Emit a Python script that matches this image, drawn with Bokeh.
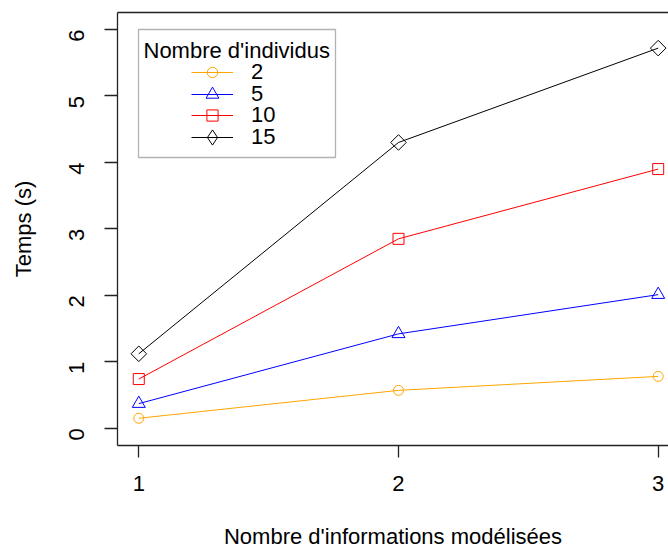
import math
from bokeh.plotting import figure
from bokeh.models import (Range1d, FixedTicker, Legend, LegendItem, Label, BoxAnnotation,
                          LinearAxis)
from bokeh.embed import file_html
from bokeh.resources import INLINE

# ---- data ----
x_vals = [1, 2, 3]
x_ticks = [1, 2, 3]
y_ticks = [0, 1, 2, 3, 4, 5, 6]
series_names = ["2", "5", "10", "15"]
t_2 = [0.15, 0.57, 0.78]
t_5 = [0.37, 1.42, 2.01]
t_10 = [0.74, 2.85, 3.90]
t_15 = [1.12, 4.30, 5.72]
series_values = [t_2, t_5, t_10, t_15]
series_colors = ["#FFA500", "#0000FF", "#FF0000", "#000000"]
series_markers = ["circle", "triangle", "square", "square"]
legend_markers = ["circle", "triangle", "square", "diamond"]
series_sizes = [10, 13, 11, 11]
series_angles = [0, 0, 0, math.pi / 4]

FONT = "Liberation Sans"
FS = "22px"
AX = "#222222"

p = figure(width=668, height=551,
           x_range=Range1d(0.918, 3.0397), y_range=Range1d(-0.260, 6.256),
           output_backend="svg", toolbar_location=None,
           min_border_left=117, min_border_right=0, min_border_top=12, min_border_bottom=106)
p.background_fill_color = "white"
p.border_fill_color = "white"
p.outline_line_color = None
p.xgrid.visible = False
p.ygrid.visible = False

for ax in (p.xaxis[0], p.yaxis[0]):
    ax.axis_line_color = AX
    ax.axis_line_width = 1.3
    ax.major_tick_line_color = AX
    ax.major_tick_line_width = 1.3
    ax.major_tick_in = 0
    ax.minor_tick_line_color = None
    ax.major_label_text_font = FONT
    ax.major_label_text_font_size = FS
    ax.major_label_text_color = "#000000"
    ax.axis_label_text_font = FONT
    ax.axis_label_text_font_size = FS
    ax.axis_label_text_font_style = "normal"
    ax.axis_label_text_color = "#000000"

# main x axis: ticks, labels and title (label centred on the plot's full box)
xax = p.xaxis[0]
xax.ticker = FixedTicker(ticks=x_ticks)
xax.bounds = (0.94, 3.06)
xax.axis_line_color = None
xax.major_tick_out = 12
xax.major_label_standoff = 18
xax.axis_label = "Nombre d'informations modélisées"
xax.axis_label_standoff = 30

# plain lines for the bottom and top edges of the box
bottom_line = LinearAxis(ticker=FixedTicker(ticks=[]), axis_line_color=AX, axis_line_width=1.3,
                         major_tick_out=0, major_tick_in=0, minor_tick_line_color=None,
                         major_label_text_font_size="0px")
p.below = [bottom_line] + list(p.below)

top_axis = LinearAxis(ticker=FixedTicker(ticks=[]), axis_line_color=AX, axis_line_width=1.3,
                      major_tick_out=0, major_tick_in=0, minor_tick_line_color=None,
                      major_label_text_font_size="0px")
p.add_layout(top_axis, "above")

p.yaxis.ticker = FixedTicker(ticks=y_ticks)
p.yaxis.major_tick_out = 13
p.yaxis.major_label_standoff = 28
p.yaxis.major_label_orientation = math.pi / 2
p.yaxis.axis_label = "Temps (s)"
p.yaxis.axis_label_standoff = 23

# legend: one Legend per entry so that the row pitch matches the reference
legend_centers = [373.3, 351.5, 329.7, 308.0]
legend_glyph_h = [26, 32, 28, 38]
for name, vals, col, mk, lmk, sz, ang, cy, gh in zip(series_names, series_values, series_colors,
                                                     series_markers, legend_markers, series_sizes,
                                                     series_angles, legend_centers, legend_glyph_h):
    r1 = p.line(x_vals, vals, line_color=col, line_width=1)
    r2 = p.scatter(x_vals, vals, marker=mk, size=sz, angle=ang,
                   fill_color=None, line_color=col, line_width=1)
    # legend key marker (zero size in the plot, drawn only inside the legend)
    r3 = p.scatter(x_vals, vals, marker=lmk, size=0,
                   fill_color=None, line_color=col, line_width=1)
    lg = Legend(items=[LegendItem(label=name, renderers=[r1, r3])],
                location=(74, cy - gh / 2), padding=0, margin=0, spacing=0,
                border_line_color=None, background_fill_alpha=0,
                glyph_width=42, glyph_height=gh, label_standoff=18,
                label_text_font=FONT, label_text_font_size=FS, label_text_color="#000000")
    p.add_layout(lg, "center")

box = BoxAnnotation(left=21, right=218, top=416, bottom=288,
                    left_units="screen", right_units="screen",
                    top_units="screen", bottom_units="screen",
                    fill_alpha=0, line_color="#000000", line_width=1.3)
p.add_layout(box)

title = Label(x=26, y=395, x_units="screen", y_units="screen", text="Nombre d'individus",
              text_font=FONT, text_font_size=FS, text_color="#000000",
              text_baseline="alphabetic", text_align="left")
p.add_layout(title)

open("out.html", "w").write(file_html(p, INLINE))
